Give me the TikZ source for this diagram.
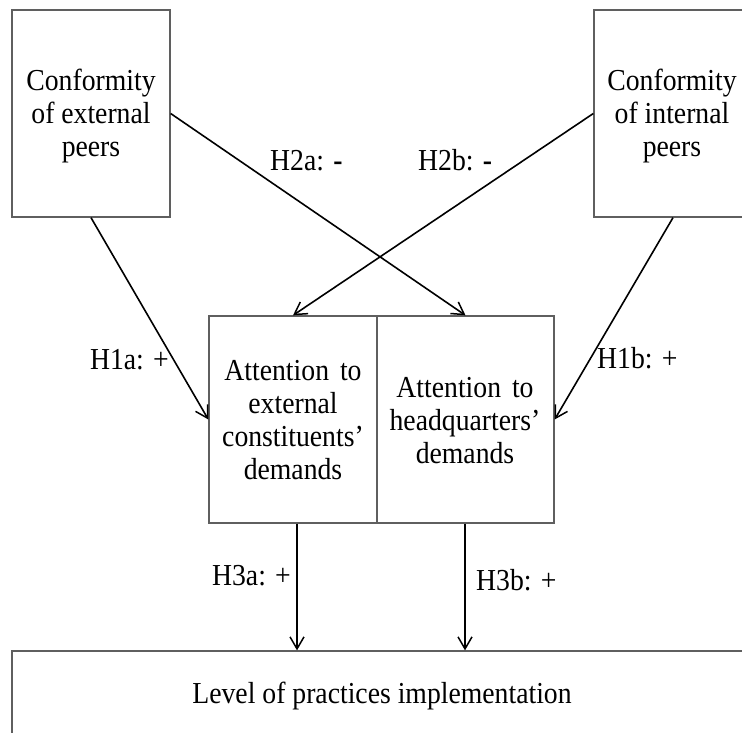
\documentclass[tikz,border=0pt]{standalone}
\usepackage{fontspec}
\usepackage{graphicx}
\setmainfont{Liberation Serif}
\usetikzlibrary{arrows.meta}
\definecolor{boxgray}{RGB}{95,95,95}
\newcommand{\mytxt}[1]{\scalebox{1}[1.1]{\begin{tabular}{@{}c@{}}#1\end{tabular}}}
\newcommand{\mylab}[1]{\scalebox{1}[1.1]{#1}}
\begin{document}
\begin{tikzpicture}[x=1pt,y=-1pt,
  txt/.style={font=\fontsize{27.7}{30}\selectfont, inner sep=0pt},
  box/.style={draw=boxgray, line width=1.3pt, inner sep=0pt},
  lab/.style={font=\fontsize{27.7}{30}\selectfont, inner sep=0pt},
  conn/.style={line width=1.6pt, -{Straight Barb[length=12pt,width=14pt,line width=1.5pt]}}]
\useasboundingbox (0,0) rectangle (742,733);
\clip (0,0) rectangle (742,733);
\fill[white] (0,0) rectangle (742,733);
% top boxes
\node[box, minimum width=158pt, minimum height=207pt] (extpeer) at (91,113.5) {};
\node[txt] (extpeertxt) at (91,117.4) {\mytxt{Conformity\\of external\\peers}};
\node[box, minimum width=158pt, minimum height=207pt] (intpeer) at (673,113.5) {};
\node[txt] (intpeertxt) at (672,117.4) {\mytxt{Conformity\\of internal\\peers}};
% middle boxes
\node[box, minimum width=168pt, minimum height=207pt] (attext) at (293,419.5) {};
\node[txt] (attexttxt) at (293,422.9) {\mytxt{Attention\hspace{4pt} to\\external\\constituents'\\demands}};
\node[box, minimum width=177pt, minimum height=207pt] (atthq) at (465.5,419.5) {};
\node[txt] (atthqtxt) at (465,423.4) {\mytxt{Attention\hspace{4pt} to\\headquarters'\\demands}};
% bottom box
\node[box, minimum width=740pt, minimum height=100pt] (outcome) at (382,701) {};
\node[txt] (outcometxt) at (382,697) {\mytxt{Level of practices implementation}};
% connectors
\draw[conn] (extpeer.south) -- (attext.west);
\draw[conn] (intpeer.south) -- (atthq.east);
\draw[conn] (extpeer.east) -- (atthq.north);
\draw[conn] (intpeer.west) -- (attext.north);
\coordinate (a3top) at ([xshift=4pt]attext.south);
\coordinate (b3top) at ([xshift=-0.5pt]atthq.south);
\draw[conn] (a3top) -- (a3top |- outcome.north);
\draw[conn] (b3top) -- (b3top |- outcome.north);
% labels
\node[lab, anchor=base west] (h2a) at (270,171) {\mylab{H2a: \textbf{-}}};
\node[lab, anchor=base west] (h2b) at (418,171) {\mylab{H2b: \textbf{-}}};
\node[lab, anchor=base east] (h1a) at (169,369) {\mylab{H1a: +}};
\node[lab, anchor=base west] (h1b) at (597,368) {\mylab{H1b: +}};
\node[lab, anchor=base east] (h3a) at (291,585) {\mylab{H3a: +}};
\node[lab, anchor=base west] (h3b) at (476,590) {\mylab{H3b: +}};
\end{tikzpicture}
\end{document}
